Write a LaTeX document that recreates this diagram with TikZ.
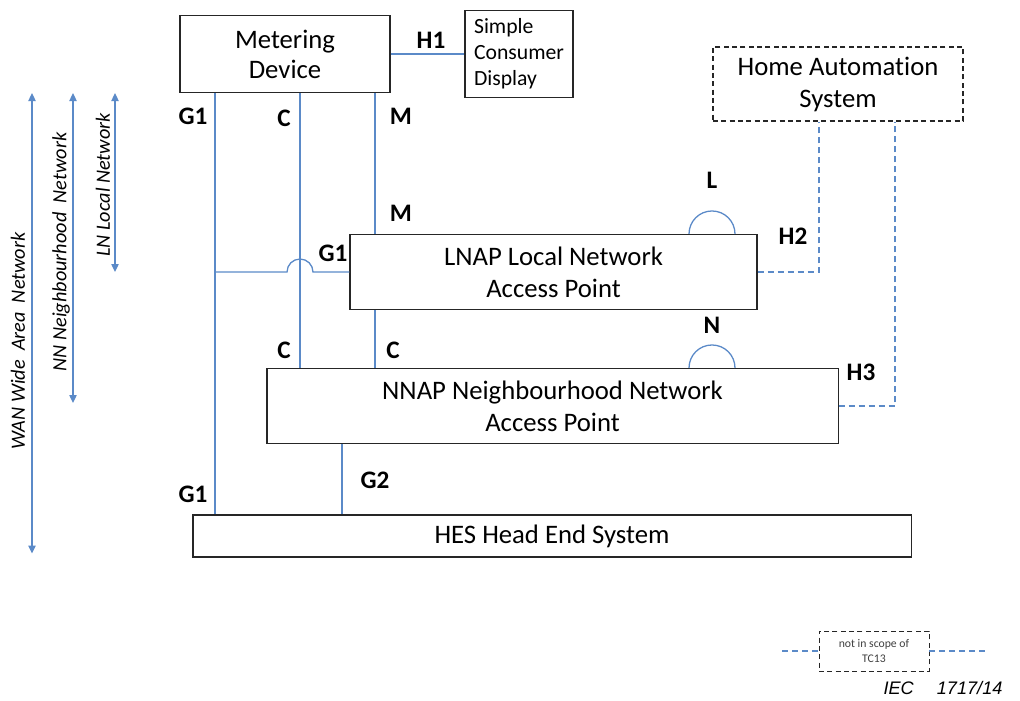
\documentclass[tikz,border=0pt]{standalone}
\usepackage{fontspec}
\setmainfont{Carlito}[Ligatures=NoCommon]
\newfontfamily\iecfont{Liberation Sans}
\usepackage{tikz}
\usetikzlibrary{arrows.meta,positioning,calc}
\definecolor{linkblue}{RGB}{91,138,200}

\begin{document}
\begin{tikzpicture}[
    x=0.03cm, y=-0.03cm,
    font=\fontsize{22.8}{27.3}\selectfont,
    box/.style={draw=black!85, line width=0.9pt, fill=white, align=center, inner sep=0pt},
    outscope/.style={box, dash pattern=on 1.5mm off 1mm},
    link/.style={draw=linkblue, line width=1.1pt},
    hlink/.style={link, dash pattern=on 1.8mm off 1.2mm},
    tag/.style={font=\fontsize{21.5}{24}\selectfont\bfseries},
    span/.style={link, {Triangle[length=2.4mm,width=2.2mm]}-{Triangle[length=2.4mm,width=2.2mm]}},
    netname/.style={font=\fontsize{17.3}{20}\selectfont\itshape, rotate=90}
  ]
    \useasboundingbox (0,0) rectangle (1020,700);

    % devices and access points
    \node[box, minimum width=6.3cm, minimum height=2.31cm,
      font=\fontsize{22.8}{25.6}\selectfont] (meter) at (285,54) {Metering\\Device};
    \node[box, minimum width=3.24cm, minimum height=2.61cm, align=left,
      font=\fontsize{18.5}{22.2}\selectfont] (display) at (519,54) {Simple\\Consumer\\Display};
    \node[outscope, minimum width=7.5cm, minimum height=2.22cm] (home) at (838,84)
      {Home Automation\\System};
    \node[box, minimum width=12.21cm, minimum height=2.25cm] (lnap) at (553.5,272)
      {LNAP Local Network\\Access Point};
    \node[box, minimum width=17.13cm, minimum height=2.25cm] (nnap) at (552.5,406)
      {NNAP Neighbourhood Network\\Access Point};
    \node[box, minimum width=21.54cm, minimum height=1.26cm] (hes) at (552,536)
      {HES Head End System};

    % x positions of the vertical links
    \coordinate (g1) at (215,0);
    \coordinate (cc) at (300,0);
    \coordinate (mm) at (375,0);
    \coordinate (g2) at (342,0);
    \coordinate (h2) at (819,0);
    \coordinate (h3) at (895,0);
    \coordinate (loop) at (689,0);

    % interfaces
    \draw[link] (meter.east) -- (display.west);
    \draw[link] (meter.south -| g1) -- (hes.north -| g1);
    \draw[link] (meter.south -| cc) -- (nnap.north -| cc);
    \draw[link] (meter.south -| mm) -- (lnap.north -| mm);
    \draw[link] (lnap.south -| mm) -- (nnap.north -| mm);
    \draw[link] (nnap.south -| g2) -- (hes.north -| g2);
    \draw[link] (lnap.west -| g1) -- ($(lnap.west -| cc)+(-13,0)$)
      arc[start angle=180, end angle=0, radius=0.39cm] -- (lnap.west);
    \draw[link] (lnap.north -| loop) arc[start angle=180, end angle=0, radius=0.69cm];
    \draw[link] (nnap.north -| loop) arc[start angle=180, end angle=0, radius=0.69cm];
    \draw[hlink] (lnap.east) -| (home.south -| h2);
    \draw[hlink] (nnap.east) -| (home.south -| h3);

    % interface names
    \node[tag] (h1tag) at (431,40) {H1};
    \node[tag] (g1top) at (193,116) {G1};
    \node[tag] (ctop) at (284,118) {C};
    \node[tag] (mtop) at (401,116) {M};
    \node[tag] (mlow) at (401,213) {M};
    \node[tag] (g1mid) at (333,253) {G1};
    \node[tag] (ltag) at (712,180) {L};
    \node[tag] (h2tag) at (793,236) {H2};
    \node[tag] (ntag) at (712,325) {N};
    \node[tag] (cleft) at (284,350) {C};
    \node[tag] (cright) at (393,350) {C};
    \node[tag] (h3tag) at (861,372) {H3};
    \node[tag] (g1low) at (193,494) {G1};
    \node[tag] (g2tag) at (375,480) {G2};

    % network spans
    \coordinate (wan) at (32,0);
    \coordinate (nn) at (73,0);
    \coordinate (ln) at (115,0);
    \draw[span] (wan |- meter.south) -- ($(wan |- hes.south)+(0,-4)$);
    \draw[span] (nn |- meter.south) -- ($(nn |- nnap.center)+(0,-3)$);
    \draw[span] (ln |- meter.south) -- (ln |- lnap.center);
    \node[netname] (wanname) at (18,341) {WAN Wide\ \ Area\ \ Network};
    \node[netname] (nnname) at (61,252) {NN Neighbourhood\ \ Network};
    \node[netname] (lnname) at (103,185) {LN Local Network};

    % legend
    \node[outscope, line width=0.8pt, minimum width=3.3cm, minimum height=1.2cm,
      font=\fontsize{10}{13}\selectfont, text=black!75] (scope) at (874,651)
      {not in scope of\\TC13};
    \coordinate (legl) at (782,651);
    \coordinate (legr) at (986,651);
    \draw[hlink] (legl) -- (scope.west);
    \draw[hlink] (scope.east) -- (legr);
    \node[font=\iecfont\itshape\fontsize{15.5}{18}\selectfont] (iec) at (943,688)
      {IEC\hspace{0.69cm}1717/14};
  \end{tikzpicture}
\end{document}
